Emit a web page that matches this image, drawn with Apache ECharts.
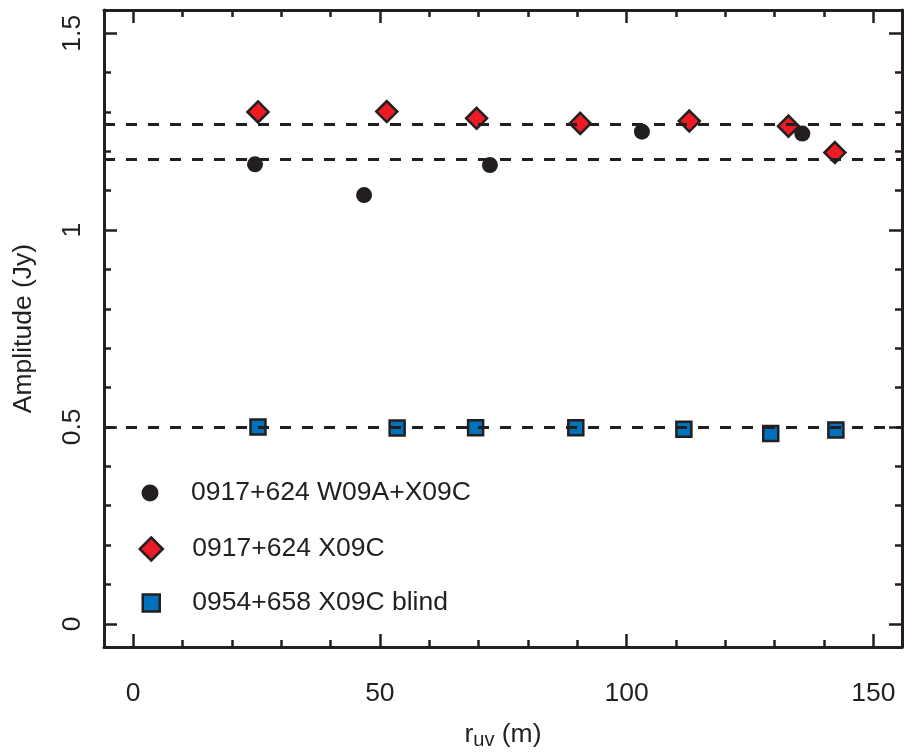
<!DOCTYPE html>
<html><head><meta charset="utf-8">
<script src="https://cdn.jsdelivr.net/npm/echarts@6/dist/echarts.min.js"></script>
<style>html,body{margin:0;padding:0;background:#fff}#c{width:904px;height:755px}</style>
</head><body><div id="c"></div>
<script>
// ---- data ----
const seriesNames = ['0917+624 W09A+X09C', '0917+624 X09C', '0954+658 X09C blind'];
const circleX = [24.7, 46.8, 72.3, 103.1, 135.6];
const circleY = [1.167, 1.089, 1.165, 1.250, 1.245];
const diamondX = [25.3, 51.4, 69.6, 90.6, 112.7, 132.8, 142.2];
const diamondY = [1.300, 1.301, 1.284, 1.271, 1.277, 1.264, 1.197];
const squareX = [25.3, 53.5, 69.4, 89.7, 111.6, 129.2, 142.4];
const squareY = [0.500, 0.497, 0.498, 0.498, 0.494, 0.483, 0.492];
const refLevels = [1.270, 1.183, 0.496];
const xMajorTicks = [0, 50, 100, 150];
const xMinorTicks = [0, 10, 20, 30, 40, 50, 60, 70, 80, 90, 100, 110, 120, 130, 140, 150];
const yMajorTicks = [0, 0.5, 1, 1.5];
const yMinorTicks = [0, 0.1, 0.2, 0.3, 0.4, 0.5, 0.6, 0.7, 0.8, 0.9, 1, 1.1, 1.2, 1.3, 1.4, 1.5];
const xTitle = '{r|r}{s|uv}{r| (m)}';
const yTitle = 'Amplitude (Jy)';

// ---- style ----
const INK = '#231f20';
const FONT = "'Liberation Sans', Arial, Helvetica, sans-serif";
const FS = 26.5;
const X_MIN = -5.9, X_MAX = 155.8, Y_MIN = -0.059, Y_MAX = 1.559;

function pairs(xs, ys) { return xs.map((x, i) => [x, ys[i]]); }

function xAx(pos, ticks, len, showLine, showLabels) {
  return {
    type: 'value', position: pos, min: X_MIN, max: X_MAX,
    axisLine: { show: showLine, onZero: false, lineStyle: { color: INK, width: 3 } },
    axisTick: { show: true, inside: true, length: len, customValues: ticks, lineStyle: { color: INK, width: 2.5 } },
    axisLabel: { show: showLabels, customValues: xMajorTicks, color: INK, fontSize: FS, fontFamily: FONT, margin: 33 },
    splitLine: { show: false }
  };
}
function yAx(pos, ticks, len, showLine, showLabels) {
  return {
    type: 'value', position: pos, min: Y_MIN, max: Y_MAX,
    axisLine: { show: showLine, onZero: false, lineStyle: { color: INK, width: 3 } },
    axisTick: { show: true, inside: true, length: len, customValues: ticks, lineStyle: { color: INK, width: 2.5 } },
    axisLabel: { show: showLabels, customValues: yMajorTicks, rotate: 90, color: INK, fontSize: FS, fontFamily: FONT, margin: 18 },
    splitLine: { show: false }
  };
}

const xAxes = [
  xAx('bottom', xMajorTicks, 13, true, true),
  xAx('bottom', xMinorTicks, 7, false, false),
  xAx('top', xMajorTicks, 13, true, false),
  xAx('top', xMinorTicks, 7, false, false)
];
Object.assign(xAxes[0], {
  name: xTitle, nameLocation: 'middle', nameGap: 73,
  nameTextStyle: {
    rich: {
      r: { fontSize: FS, lineHeight: 30, color: INK, fontFamily: FONT },
      s: { fontSize: 20, lineHeight: 20, verticalAlign: 'bottom', color: INK, fontFamily: FONT }
    }
  }
});
const yAxes = [
  yAx('left', yMajorTicks, 13, true, true),
  yAx('left', yMinorTicks, 7, false, false),
  yAx('right', yMajorTicks, 13, true, false),
  yAx('right', yMinorTicks, 7, false, false)
];
Object.assign(yAxes[0], {
  name: yTitle, nameLocation: 'middle', nameGap: 67,
  nameTextStyle: { fontSize: FS, color: INK, fontFamily: FONT }
});

function legendItem(name, icon, size, cx, cy, style) {
  return {
    data: [name], icon: icon, orient: 'vertical', selectedMode: false,
    left: cx - size / 2, top: cy - 15, padding: 0,
    itemWidth: size, itemHeight: size,
    itemStyle: style,
    textStyle: { color: INK, fontSize: FS, fontFamily: FONT, lineHeight: 30, padding: [0, 0, 0, 191 - (cx + size / 2) - 5] }
  };
}

const circleStyle = { color: INK, borderWidth: 0, opacity: 1 };
const diamondStyle = { color: '#ed1c24', borderColor: INK, borderWidth: 2.5, opacity: 1 };
const squareStyle = { color: '#0072bc', borderColor: INK, borderWidth: 2.5, opacity: 1 };

const option = {
  animation: false,
  backgroundColor: '#ffffff',
  textStyle: { fontFamily: FONT, color: INK },
  grid: { left: 104, right: 2, top: 10, bottom: 106, containLabel: false },
  xAxis: xAxes,
  yAxis: yAxes,
  legend: [
    legendItem(seriesNames[0], 'circle', 17, 150, 493, circleStyle),
    legendItem(seriesNames[1], 'diamond', 23, 150, 549, diamondStyle),
    legendItem(seriesNames[2], 'rect', 17, 150, 603, squareStyle)
  ],
  series: [
    {
      name: 'ref', type: 'line', data: [], xAxisIndex: 0, yAxisIndex: 0, z: 1,
      markLine: {
        silent: true, symbol: ['none', 'none'], animation: false,
        label: { show: false },
        lineStyle: { color: INK, width: 3, type: [11, 11], opacity: 1 },
        emphasis: { disabled: true },
        data: refLevels.map(v => ({ yAxis: v }))
      }
    },
    {
      name: seriesNames[0], type: 'scatter', xAxisIndex: 0, yAxisIndex: 0, z: 3,
      symbol: 'circle', symbolSize: 16, itemStyle: circleStyle,
      data: pairs(circleX, circleY)
    },
    {
      name: seriesNames[1], type: 'scatter', xAxisIndex: 0, yAxisIndex: 0, z: 3,
      symbol: 'diamond', symbolSize: 21, itemStyle: diamondStyle,
      data: pairs(diamondX, diamondY)
    },
    {
      name: seriesNames[2], type: 'scatter', xAxisIndex: 0, yAxisIndex: 0, z: 3,
      symbol: 'rect', symbolSize: 15, itemStyle: squareStyle,
      data: pairs(squareX, squareY)
    }
  ]
};

const chart = echarts.init(document.getElementById('c'), null, { renderer: 'canvas' });
chart.setOption(option);
</script>
</body></html>
